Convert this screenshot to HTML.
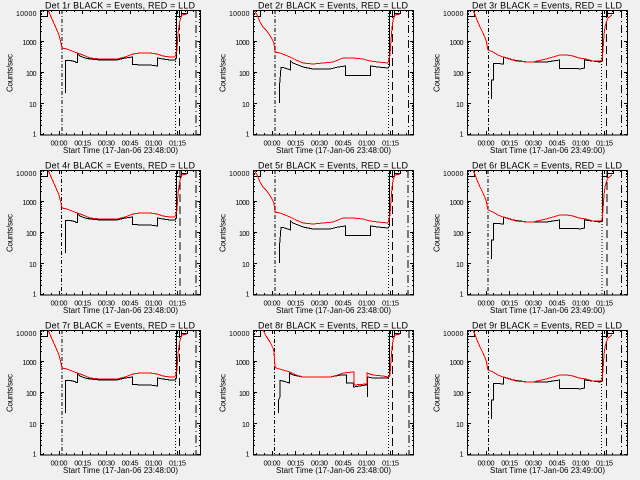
<!DOCTYPE html>
<html><head><meta charset="utf-8"><style>
html,body{margin:0;padding:0;background:#f0f0f0;}
svg{display:block;}
text{font-family:"Liberation Sans",sans-serif;fill:#000;}
.t{font-size:9px;}
.yl{font-size:7px;text-anchor:end;}
.xl{font-size:7.5px;text-anchor:middle;}
.st{font-size:8px;text-anchor:middle;}
.r{fill:none;stroke:#ff0000;stroke-width:1;shape-rendering:crispEdges;}
.b{fill:none;stroke:#000;stroke-width:1;shape-rendering:crispEdges;}
.v{stroke:#000;stroke-width:1;shape-rendering:crispEdges;}
</style></head><body>
<svg width="640" height="480" viewBox="0 0 640 480" xmlns="http://www.w3.org/2000/svg">
<rect width="640" height="480" fill="#f0f0f0"/>
<defs>
<g id="ax" shape-rendering="crispEdges">
<rect x="40.5" y="10.5" width="160" height="124.5" fill="none" stroke="#000" stroke-width="1"/>
<path stroke="#000" stroke-width="1" fill="none" d="
M40,10.5H44 M40,41.5H44 M40,72.5H44 M40,103.5H44 M40,134.5H44
M201,10.5H197 M201,41.5H197 M201,72.5H197 M201,103.5H197 M201,134.5H197
M40,125.5H42 M40,120.5H42 M40,116.5H42 M40,113.5H42 M40,110.5H42 M40,108.5H42 M40,106.5H42 M40,105.5H42
M40,94.5H42 M40,88.5H42 M40,84.5H42 M40,81.5H42 M40,79.5H42 M40,77.5H42 M40,75.5H42 M40,73.5H42
M40,63.5H42 M40,57.5H42 M40,53.5H42 M40,50.5H42 M40,48.5H42 M40,46.5H42 M40,44.5H42 M40,42.5H42
M40,31.5H42 M40,26.5H42 M40,22.5H42 M40,19.5H42 M40,16.5H42 M40,14.5H42 M40,13.5H42 M40,11.5H42
M201,125.5H199 M201,120.5H199 M201,116.5H199 M201,113.5H199 M201,110.5H199 M201,108.5H199 M201,106.5H199 M201,105.5H199
M201,94.5H199 M201,88.5H199 M201,84.5H199 M201,81.5H199 M201,79.5H199 M201,77.5H199 M201,75.5H199 M201,73.5H199
M201,63.5H199 M201,57.5H199 M201,53.5H199 M201,50.5H199 M201,48.5H199 M201,46.5H199 M201,44.5H199 M201,42.5H199
M201,31.5H199 M201,26.5H199 M201,22.5H199 M201,19.5H199 M201,16.5H199 M201,14.5H199 M201,13.5H199 M201,11.5H199
M59.5,135V131 M82.5,135V131 M106.5,135V131 M130.5,135V131 M153.5,135V131 M177.5,135V131
M59.5,10V14 M82.5,10V14 M106.5,10V14 M130.5,10V14 M153.5,10V14 M177.5,10V14
M43.5,135V133 M51.5,135V133 M66.5,135V133 M74.5,135V133 M90.5,135V133 M98.5,135V133 M114.5,135V133 M122.5,135V133 M138.5,135V133 M145.5,135V133 M161.5,135V133 M169.5,135V133 M185.5,135V133 M193.5,135V133
M43.5,10V12 M51.5,10V12 M66.5,10V12 M74.5,10V12 M90.5,10V12 M98.5,10V12 M114.5,10V12 M122.5,10V12 M138.5,10V12 M145.5,10V12 M161.5,10V12 M169.5,10V12 M185.5,10V12 M193.5,10V12
"/>
</g>
<path id="rA" d="M48,10 L52,19 L56,28 L59,35 L61,43 L62,48 L67,49 L72,51 L77,53 L83,55 L90,58 L100,59 L117,59 L125,57 L133,54 L140,53 L150,53 L157,54 L163,56 L170,57 L175,57 L177,50 L178,33 L180,20 L182,15 L187,14"/>
<path id="bA" d="M40.5,16.5 H47.5 V10 M65.5,93 V60.5 L70,60.5 L75,61.5 L76,62.5 H77.5 V54 L80,56 L85,58 L90,59 L100,60 L117,60 L125,58 L132.5,57 V64.5 L143,65 L150,65 L157.5,66 V58 L163,59 L170,60 L175,60 L176.5,58 V10 M176.5,16.5 H181.5 V10 M181.5,13.5 H187.5 V10"/>
<path id="rB" d="M41,10 L44,15 L47,22 L50,27 L53,30 L56,34 L59,39 L61,43 L62,52 L67,53 L72,55 L77,57 L83,60 L90,63 L100,64 L110,63 L120,62 L130,58 L140,58 L150,59 L157,61 L165,62 L175,63 L177,55 L178,40 L179,28 L180,20 L182,15 L187,14"/>
<path id="bB" d="M40.5,16.5 H47.5 V10 M66.5,103 V85 L67,80 L68,67.5 H70 L75,69 L77.5,70 V61 L80,63 L85,65 L90,67 L100,69 L117,69 L125,67 L132.5,66 V75.5 L145,75.5 L157.5,75.5 V66 L165,67 L175,68 L176.5,66 V10 M176.5,16.5 H181.5 V10 M181.5,13.5 H187.5 V10"/>
<path id="rC" d="M46,10 L47,12 L50,20 L53,27 L56,33 L59,40 L61,50 L66,52 L71,55 L76,57 L82,59 L89,61 L100,62 L106,62 L119,59 L126,57 L133,55 L140,55 L146,56 L152,58 L159,59 L166,61 L173,61 L175,60 L176,50 L177,35 L178,27 L180,20 L181,18 L185,15"/>
<path id="bC" d="M40.5,16.5 H47.5 V10 M64.5,99 V80 L66.5,80 V63.5 L70,63.5 L76.5,64 V57 L80,58 L86,60 L100,62 L119,62 L126,61 L132.5,60 V68.5 L150,68.5 L153,69 L157.5,68 V60 L165,61 L173,62 L175.5,61 V10 M175.5,16.5 H180.5 V10 M180.5,13.5 H186.5 V10"/>
<path id="rD" d="M50,10 L53,16 L57,22 L60,28 L61,32 L62,47 L63,48 L70,50 L77,52 L83,55 L90,57 L117,57 L125,55 L130,53 L140,52 L141,52 L141,65 L153,64 L154,64 L154,53 L160,55 L170,56 L175,57 L177,55 L178,40 L179,28 L180,20 L182,15 L187,14"/>
<path id="bD" d="M40.5,16.5 H47.5 V10 M65.5,93 L65.5,80 L67,77 V60.5 L70,61 L76.5,63 V53 L80,55 L90,57 L117,57 L128,55 L133.5,55 V63 L140.5,63 V67 L153,65 L154.5,65 V77 V57 L160,58 L170,58 L175,58 L176.5,56 V10 M176.5,16.5 H181.5 V10 M181.5,13.5 H187.5 V10"/>
</defs>

<!-- Panel 1 -->
<g transform="translate(0,0)">
<use href="#ax"/>
<line class="v" x1="62" y1="10" x2="62" y2="135" stroke-dasharray="4,2,1,2"/>
<line class="v" x1="175.5" y1="10" x2="175.5" y2="135" stroke-dasharray="1,2"/>
<line class="v" x1="179.5" y1="10" x2="179.5" y2="135" stroke-dasharray="8,4"/>
<line class="v" x1="196" y1="10" x2="196" y2="135" stroke-dasharray="8,3,1,3"/>
<use href="#bA" class="b"/><use href="#rA" class="r"/>
<text class="t" x="45" y="8.5" textLength="150">Det 1r BLACK = Events, RED = LLD</text>
<text class="yl" x="36.5" y="16" textLength="20.5">10000</text><text class="yl" x="36.5" y="45" textLength="14">1000</text><text class="yl" x="36.5" y="76" textLength="10.5">100</text><text class="yl" x="36.5" y="107" textLength="7.5">10</text><text class="yl" x="36.5" y="136.5">1</text>
<text class="xl" x="59" y="145.5" textLength="17">00:00</text><text class="xl" x="82.7" y="145.5" textLength="17">00:15</text><text class="xl" x="106.4" y="145.5" textLength="17">00:30</text><text class="xl" x="130.1" y="145.5" textLength="17">00:45</text><text class="xl" x="153.8" y="145.5" textLength="17">01:00</text><text class="xl" x="177.5" y="145.5" textLength="17">01:15</text>
<text class="st" x="120.5" y="153" textLength="115">Start Time (17-Jan-06 23:48:00)</text>
<text class="st" transform="translate(12.5,73) rotate(-90)" x="0" y="0" textLength="38">Counts/sec</text>
</g>

<!-- Panel 2 -->
<g transform="translate(213,0)">
<use href="#ax"/>
<line class="v" x1="62" y1="10" x2="62" y2="135" stroke-dasharray="4,2,1,2"/>
<line class="v" x1="175.5" y1="10" x2="175.5" y2="135" stroke-dasharray="1,2"/>
<line class="v" x1="179.5" y1="10" x2="179.5" y2="135" stroke-dasharray="8,4"/>
<line class="v" x1="195.5" y1="10" x2="195.5" y2="135" stroke-dasharray="8,3,1,3"/>
<use href="#bB" class="b"/><use href="#rB" class="r"/>
<text class="t" x="45" y="8.5" textLength="150">Det 2r BLACK = Events, RED = LLD</text>
<text class="yl" x="36.5" y="16" textLength="20.5">10000</text><text class="yl" x="36.5" y="45" textLength="14">1000</text><text class="yl" x="36.5" y="76" textLength="10.5">100</text><text class="yl" x="36.5" y="107" textLength="7.5">10</text><text class="yl" x="36.5" y="136.5">1</text>
<text class="xl" x="59" y="145.5" textLength="17">00:00</text><text class="xl" x="82.7" y="145.5" textLength="17">00:15</text><text class="xl" x="106.4" y="145.5" textLength="17">00:30</text><text class="xl" x="130.1" y="145.5" textLength="17">00:45</text><text class="xl" x="153.8" y="145.5" textLength="17">01:00</text><text class="xl" x="177.5" y="145.5" textLength="17">01:15</text>
<text class="st" x="120.5" y="153" textLength="115">Start Time (17-Jan-06 23:48:00)</text>
<text class="st" transform="translate(12.5,73) rotate(-90)" x="0" y="0" textLength="38">Counts/sec</text>
</g>

<!-- Panel 3 -->
<g transform="translate(427,0)">
<use href="#ax"/>
<line class="v" x1="61.5" y1="10" x2="61.5" y2="135" stroke-dasharray="4,2,1,2"/>
<line class="v" x1="174.5" y1="10" x2="174.5" y2="135" stroke-dasharray="1,2"/>
<line class="v" x1="179.5" y1="10" x2="179.5" y2="135" stroke-dasharray="8,4"/>
<line class="v" x1="194.5" y1="10" x2="194.5" y2="135" stroke-dasharray="8,3,1,3"/>
<use href="#bC" class="b"/><use href="#rC" class="r"/>
<text class="t" x="45" y="8.5" textLength="150">Det 3r BLACK = Events, RED = LLD</text>
<text class="yl" x="36.5" y="16" textLength="20.5">10000</text><text class="yl" x="36.5" y="45" textLength="14">1000</text><text class="yl" x="36.5" y="76" textLength="10.5">100</text><text class="yl" x="36.5" y="107" textLength="7.5">10</text><text class="yl" x="36.5" y="136.5">1</text>
<text class="xl" x="59" y="145.5" textLength="17">00:00</text><text class="xl" x="82.7" y="145.5" textLength="17">00:15</text><text class="xl" x="106.4" y="145.5" textLength="17">00:30</text><text class="xl" x="130.1" y="145.5" textLength="17">00:45</text><text class="xl" x="153.8" y="145.5" textLength="17">01:00</text><text class="xl" x="177.5" y="145.5" textLength="17">01:15</text>
<text class="st" x="120.5" y="153" textLength="115">Start Time (17-Jan-06 23:49:00)</text>
<text class="st" transform="translate(12.5,73) rotate(-90)" x="0" y="0" textLength="38">Counts/sec</text>
</g>

<!-- Panel 4 -->
<g transform="translate(0,160)">
<use href="#ax"/>
<line class="v" x1="61.5" y1="10" x2="61.5" y2="135" stroke-dasharray="4,2,1,2"/>
<line class="v" x1="175.5" y1="10" x2="175.5" y2="135" stroke-dasharray="1,2"/>
<line class="v" x1="180" y1="10" x2="180" y2="135" stroke-dasharray="8,4"/>
<line class="v" x1="196" y1="10" x2="196" y2="135" stroke-dasharray="8,3,1,3"/>
<use href="#bA" class="b"/><use href="#rA" class="r"/>
<text class="t" x="45" y="8.5" textLength="150">Det 4r BLACK = Events, RED = LLD</text>
<text class="yl" x="36.5" y="16" textLength="20.5">10000</text><text class="yl" x="36.5" y="45" textLength="14">1000</text><text class="yl" x="36.5" y="76" textLength="10.5">100</text><text class="yl" x="36.5" y="107" textLength="7.5">10</text><text class="yl" x="36.5" y="136.5">1</text>
<text class="xl" x="59" y="145.5" textLength="17">00:00</text><text class="xl" x="82.7" y="145.5" textLength="17">00:15</text><text class="xl" x="106.4" y="145.5" textLength="17">00:30</text><text class="xl" x="130.1" y="145.5" textLength="17">00:45</text><text class="xl" x="153.8" y="145.5" textLength="17">01:00</text><text class="xl" x="177.5" y="145.5" textLength="17">01:15</text>
<text class="st" x="120.5" y="153" textLength="115">Start Time (17-Jan-06 23:48:00)</text>
<text class="st" transform="translate(12.5,73) rotate(-90)" x="0" y="0" textLength="38">Counts/sec</text>
</g>

<!-- Panel 5 -->
<g transform="translate(213,160)">
<use href="#ax"/>
<line class="v" x1="62" y1="10" x2="62" y2="135" stroke-dasharray="4,2,1,2"/>
<line class="v" x1="175.5" y1="10" x2="175.5" y2="135" stroke-dasharray="1,2"/>
<line class="v" x1="179.5" y1="10" x2="179.5" y2="135" stroke-dasharray="8,4"/>
<line class="v" x1="195" y1="10" x2="195" y2="135" stroke-dasharray="8,3,1,3"/>
<use href="#bB" class="b"/><use href="#rB" class="r"/>
<text class="t" x="45" y="8.5" textLength="150">Det 5r BLACK = Events, RED = LLD</text>
<text class="yl" x="36.5" y="16" textLength="20.5">10000</text><text class="yl" x="36.5" y="45" textLength="14">1000</text><text class="yl" x="36.5" y="76" textLength="10.5">100</text><text class="yl" x="36.5" y="107" textLength="7.5">10</text><text class="yl" x="36.5" y="136.5">1</text>
<text class="xl" x="59" y="145.5" textLength="17">00:00</text><text class="xl" x="82.7" y="145.5" textLength="17">00:15</text><text class="xl" x="106.4" y="145.5" textLength="17">00:30</text><text class="xl" x="130.1" y="145.5" textLength="17">00:45</text><text class="xl" x="153.8" y="145.5" textLength="17">01:00</text><text class="xl" x="177.5" y="145.5" textLength="17">01:15</text>
<text class="st" x="120.5" y="153" textLength="115">Start Time (17-Jan-06 23:48:00)</text>
<text class="st" transform="translate(12.5,73) rotate(-90)" x="0" y="0" textLength="38">Counts/sec</text>
</g>

<!-- Panel 6 -->
<g transform="translate(427,160)">
<use href="#ax"/>
<line class="v" x1="61" y1="10" x2="61" y2="135" stroke-dasharray="4,2,1,2"/>
<line class="v" x1="175" y1="10" x2="175" y2="135" stroke-dasharray="1,2"/>
<line class="v" x1="180" y1="10" x2="180" y2="135" stroke-dasharray="8,4"/>
<line class="v" x1="194.5" y1="10" x2="194.5" y2="135" stroke-dasharray="8,3,1,3"/>
<use href="#bC" class="b"/><use href="#rC" class="r"/>
<text class="t" x="45" y="8.5" textLength="150">Det 6r BLACK = Events, RED = LLD</text>
<text class="yl" x="36.5" y="16" textLength="20.5">10000</text><text class="yl" x="36.5" y="45" textLength="14">1000</text><text class="yl" x="36.5" y="76" textLength="10.5">100</text><text class="yl" x="36.5" y="107" textLength="7.5">10</text><text class="yl" x="36.5" y="136.5">1</text>
<text class="xl" x="59" y="145.5" textLength="17">00:00</text><text class="xl" x="82.7" y="145.5" textLength="17">00:15</text><text class="xl" x="106.4" y="145.5" textLength="17">00:30</text><text class="xl" x="130.1" y="145.5" textLength="17">00:45</text><text class="xl" x="153.8" y="145.5" textLength="17">01:00</text><text class="xl" x="177.5" y="145.5" textLength="17">01:15</text>
<text class="st" x="120.5" y="153" textLength="115">Start Time (17-Jan-06 23:49:00)</text>
<text class="st" transform="translate(12.5,73) rotate(-90)" x="0" y="0" textLength="38">Counts/sec</text>
</g>

<!-- Panel 7 -->
<g transform="translate(0,320)">
<use href="#ax"/>
<line class="v" x1="62" y1="10" x2="62" y2="135" stroke-dasharray="4,2,1,2"/>
<line class="v" x1="175.5" y1="10" x2="175.5" y2="135" stroke-dasharray="1,2"/>
<line class="v" x1="179.5" y1="10" x2="179.5" y2="135" stroke-dasharray="8,4"/>
<line class="v" x1="196" y1="10" x2="196" y2="135" stroke-dasharray="8,3,1,3"/>
<use href="#bA" class="b"/><use href="#rA" class="r"/>
<text class="t" x="45" y="8.5" textLength="150">Det 7r BLACK = Events, RED = LLD</text>
<text class="yl" x="36.5" y="16" textLength="20.5">10000</text><text class="yl" x="36.5" y="45" textLength="14">1000</text><text class="yl" x="36.5" y="76" textLength="10.5">100</text><text class="yl" x="36.5" y="107" textLength="7.5">10</text><text class="yl" x="36.5" y="136.5">1</text>
<text class="xl" x="59" y="145.5" textLength="17">00:00</text><text class="xl" x="82.7" y="145.5" textLength="17">00:15</text><text class="xl" x="106.4" y="145.5" textLength="17">00:30</text><text class="xl" x="130.1" y="145.5" textLength="17">00:45</text><text class="xl" x="153.8" y="145.5" textLength="17">01:00</text><text class="xl" x="177.5" y="145.5" textLength="17">01:15</text>
<text class="st" x="120.5" y="153" textLength="115">Start Time (17-Jan-06 23:48:00)</text>
<text class="st" transform="translate(12.5,73) rotate(-90)" x="0" y="0" textLength="38">Counts/sec</text>
</g>

<!-- Panel 8 -->
<g transform="translate(213,320)">
<use href="#ax"/>
<line class="v" x1="61.5" y1="10" x2="61.5" y2="135" stroke-dasharray="4,2,1,2"/>
<line class="v" x1="175.5" y1="10" x2="175.5" y2="135" stroke-dasharray="1,2"/>
<line class="v" x1="179.5" y1="10" x2="179.5" y2="135" stroke-dasharray="8,4"/>
<line class="v" x1="196" y1="10" x2="196" y2="135" stroke-dasharray="8,3,1,3"/>
<use href="#bD" class="b"/><use href="#rD" class="r"/>
<text class="t" x="45" y="8.5" textLength="150">Det 8r BLACK = Events, RED = LLD</text>
<text class="yl" x="36.5" y="16" textLength="20.5">10000</text><text class="yl" x="36.5" y="45" textLength="14">1000</text><text class="yl" x="36.5" y="76" textLength="10.5">100</text><text class="yl" x="36.5" y="107" textLength="7.5">10</text><text class="yl" x="36.5" y="136.5">1</text>
<text class="xl" x="59" y="145.5" textLength="17">00:00</text><text class="xl" x="82.7" y="145.5" textLength="17">00:15</text><text class="xl" x="106.4" y="145.5" textLength="17">00:30</text><text class="xl" x="130.1" y="145.5" textLength="17">00:45</text><text class="xl" x="153.8" y="145.5" textLength="17">01:00</text><text class="xl" x="177.5" y="145.5" textLength="17">01:15</text>
<text class="st" x="120.5" y="153" textLength="115">Start Time (17-Jan-06 23:48:00)</text>
<text class="st" transform="translate(12.5,73) rotate(-90)" x="0" y="0" textLength="38">Counts/sec</text>
</g>

<!-- Panel 9 -->
<g transform="translate(427,320)">
<use href="#ax"/>
<line class="v" x1="61.5" y1="10" x2="61.5" y2="135" stroke-dasharray="4,2,1,2"/>
<line class="v" x1="174.5" y1="10" x2="174.5" y2="135" stroke-dasharray="1,2"/>
<line class="v" x1="179.5" y1="10" x2="179.5" y2="135" stroke-dasharray="8,4"/>
<line class="v" x1="194.5" y1="10" x2="194.5" y2="135" stroke-dasharray="8,3,1,3"/>
<use href="#bC" class="b"/><use href="#rC" class="r"/>
<text class="t" x="45" y="8.5" textLength="150">Det 9r BLACK = Events, RED = LLD</text>
<text class="yl" x="36.5" y="16" textLength="20.5">10000</text><text class="yl" x="36.5" y="45" textLength="14">1000</text><text class="yl" x="36.5" y="76" textLength="10.5">100</text><text class="yl" x="36.5" y="107" textLength="7.5">10</text><text class="yl" x="36.5" y="136.5">1</text>
<text class="xl" x="59" y="145.5" textLength="17">00:00</text><text class="xl" x="82.7" y="145.5" textLength="17">00:15</text><text class="xl" x="106.4" y="145.5" textLength="17">00:30</text><text class="xl" x="130.1" y="145.5" textLength="17">00:45</text><text class="xl" x="153.8" y="145.5" textLength="17">01:00</text><text class="xl" x="177.5" y="145.5" textLength="17">01:15</text>
<text class="st" x="120.5" y="153" textLength="115">Start Time (17-Jan-06 23:49:00)</text>
<text class="st" transform="translate(12.5,73) rotate(-90)" x="0" y="0" textLength="38">Counts/sec</text>
</g>
</svg>
</body></html>
